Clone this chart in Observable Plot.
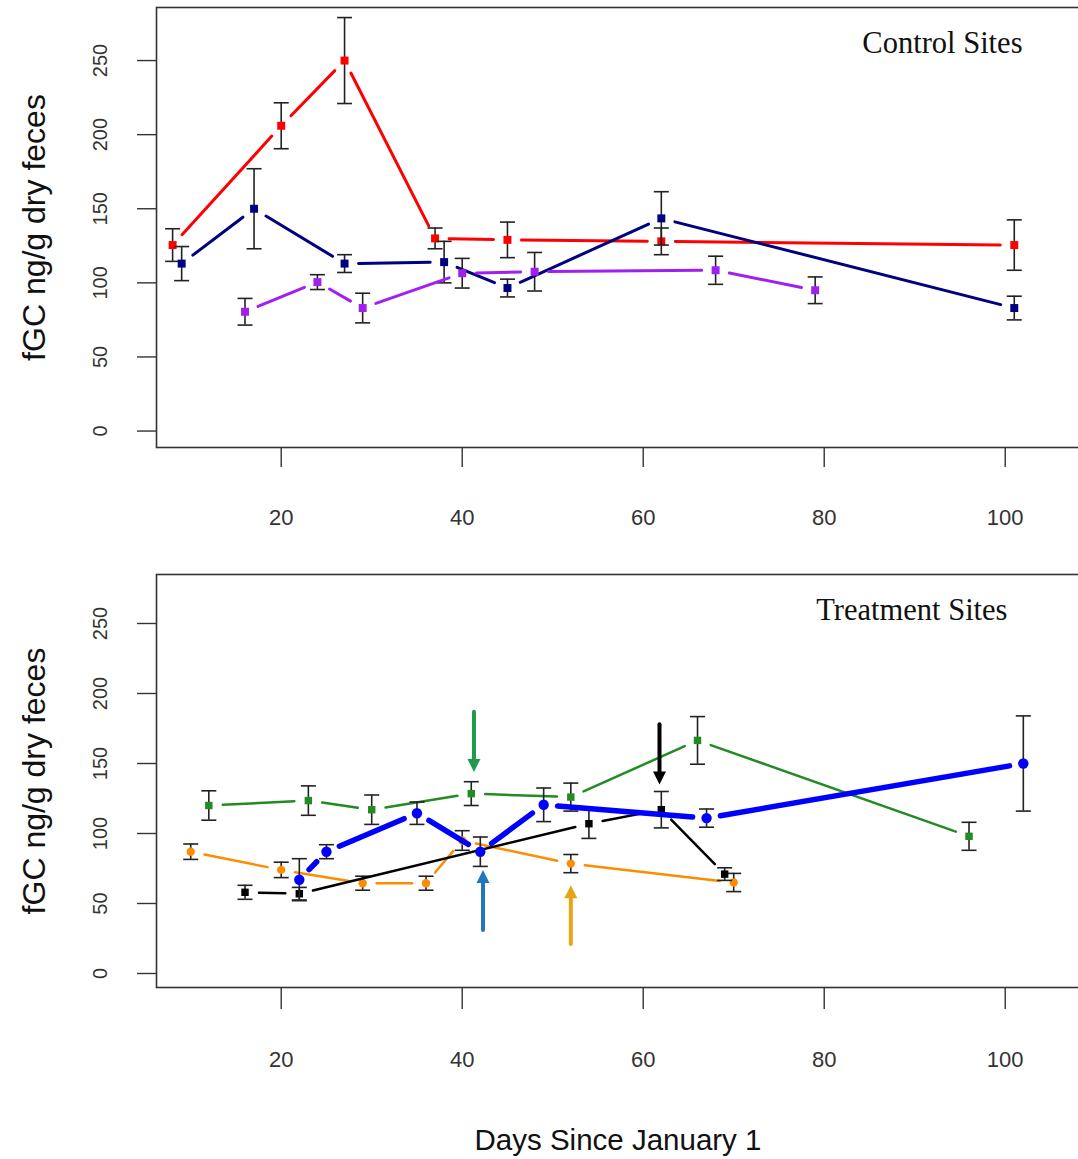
<!DOCTYPE html>
<html>
<head>
<meta charset="utf-8">
<script src="https://cdn.jsdelivr.net/npm/d3@7"></script>
<script src="https://cdn.jsdelivr.net/npm/@observablehq/plot@0.6"></script>
<style>
  html, body { margin: 0; padding: 0; background: #fff; }
  body { width: 1078px; height: 1159px; overflow: hidden; position: relative; }
  #chart svg { display: block; }
  #xtitle {
    position: absolute; top: 1120px; left: 618px; transform: translateX(-50%);
    font-family: "Liberation Sans", Arial, sans-serif; font-size: 29.5px; color: #111;
    white-space: nowrap; line-height: 40px;
  }
</style>
</head>
<body>
<div id="chart"></div>
<div id="xtitle">Days Since January 1</div>
<script>
// ---------- data ----------
const yTicks = [0, 50, 100, 150, 200, 250];
const xTicks = [20, 40, 60, 80, 100];
const yTitle = "fGC ng/g dry feces";
const topTitle = "Control Sites";
const bottomTitle = "Treatment Sites";

// Control sites
const redDays = [8, 20, 27, 37, 45, 62, 101];
const redFGC  = [125.5, 206, 250, 130, 129, 128, 125.5];
const redSE   = [11, 15.5, 29, 7, 12, 9, 17];

const navyDays = [9, 17, 27, 38, 45, 62, 101];
const navyFGC  = [113, 150, 113, 114, 96.5, 143.5, 83];
const navySE   = [11.5, 27, 6, 14, 6, 18, 8];

const purpleDays = [16, 24, 29, 40, 48, 68, 79];
const purpleFGC  = [80.5, 100.5, 83, 106.5, 107.5, 108.5, 95];
const purpleSE   = [9, 5, 10, 10, 13, 9.5, 9];

// Treatment sites
const greenDays = [12, 23, 30, 41, 52, 66, 96];
const greenFGC  = [120, 123.5, 117, 128.5, 126, 166.5, 98];
const greenSE   = [10.5, 10.5, 10.5, 8.5, 10, 17, 10];

const blueDays = [22, 25, 35, 42, 49, 67, 102];
const blueFGC  = [67, 87, 114.5, 87, 120.5, 111, 150];
const blueSE   = [15, 5, 8, 10.5, 12, 6.5, 34];

const blackDays = [16, 22, 54, 62, 69];
const blackFGC  = [58, 57, 107, 117, 71];
const blackSE   = [5, 4.5, 10.5, 13, 4.5];

const orangeDays = [10, 20, 29, 36, 40, 52, 70];
const orangeFGC  = [87, 74, 64.5, 64.5, 95, 78.5, 65];
const orangeSE   = [5.5, 5.5, 5, 5, 7, 6.5, 6.5];

// Annotation arrows (treatment panel)
const arrowDays   = [41.3, 42.3, 52, 61.8];
const arrowFrom   = [187, 31, 21, 178];
const arrowTo     = [144, 74, 63, 135];
const arrowColors = ["#1e9a4a", "#2277bb", "#e8a317", "#000000"];

// ---------- helpers ----------
const rows = (days, vals, se) => days.map((d, i) => ({day: d, fgc: vals[i], se: se[i]}));

const capSymbol = {draw(ctx, size) { const r = Math.sqrt(size / Math.PI); ctx.moveTo(-r, 0); ctx.lineTo(r, 0); }};
const headDown = {draw(ctx, size) { const r = Math.sqrt(size / Math.PI); ctx.moveTo(0, 0); ctx.lineTo(-r * 0.5, -r); ctx.lineTo(r * 0.5, -r); ctx.closePath(); }};
const headUp = {draw(ctx, size) { const r = Math.sqrt(size / Math.PI); ctx.moveTo(0, 0); ctx.lineTo(-r * 0.5, r); ctx.lineTo(r * 0.5, r); ctx.closePath(); }};

const SANS = "'Liberation Sans', Arial, sans-serif";
const SERIF = "'Liberation Serif', 'Times New Roman', serif";

function seriesMarks(data, color, lineWidth, symbol, r) {
  const pairs = d3.pairs(data);
  return [
    Plot.arrow(pairs, {
      x1: p => p[0].day, y1: p => p[0].fgc, x2: p => p[1].day, y2: p => p[1].fgc,
      stroke: color, strokeWidth: lineWidth, headLength: 0, insetStart: 14, insetEnd: 14
    }),
    Plot.ruleX(data, {x: "day", y1: d => d.fgc - d.se, y2: d => d.fgc + d.se, stroke: "#222", strokeWidth: 1.6}),
    Plot.dot(data, {x: "day", y: d => d.fgc + d.se, symbol: capSymbol, r: 7.5, stroke: "#222", fill: "none", strokeWidth: 1.6}),
    Plot.dot(data, {x: "day", y: d => d.fgc - d.se, symbol: capSymbol, r: 7.5, stroke: "#222", fill: "none", strokeWidth: 1.6}),
    Plot.dot(data, {x: "day", y: "fgc", symbol, r, fill: color, stroke: "none"})
  ];
}

function panel({height, marginTop, marginBottom, yDomain, title, titleDx, tickSize, labelDy, series, extra = []}) {
  return Plot.plot({
    width: 1078,
    height,
    marginLeft: 156,
    marginRight: -5,
    marginTop,
    marginBottom,
    x: {domain: [6.22, 108.65], axis: null},
    y: {domain: yDomain, axis: null},
    color: {type: "identity"},
    style: {fontFamily: SANS, background: "white", color: "#222"},
    marks: [
      Plot.frame({stroke: "#333", strokeWidth: 1.6}),
      Plot.axisY({ticks: yTicks, tickSize: 19, tickFormat: () => "", label: null, stroke: "#333", strokeWidth: 1.4}),
      Plot.text(yTicks, {y: d => d, text: d => String(d), frameAnchor: "left", dx: -56, rotate: -90,
        fontSize: 20, fill: "#333", textAnchor: "middle", lineAnchor: "middle"}),
      Plot.axisX({ticks: xTicks, tickSize, tickFormat: () => "", label: null, stroke: "#333", strokeWidth: 1.4}),
      Plot.text(xTicks, {x: d => d, text: d => String(d), frameAnchor: "bottom", dy: labelDy,
        fontSize: 22, fill: "#333", lineAnchor: "middle"}),
      Plot.text([yTitle], {text: d => d, frameAnchor: "left", dx: -122, rotate: -90,
        fontSize: 32, fill: "#111", textAnchor: "middle", lineAnchor: "middle"}),
      Plot.text([title], {text: d => d, frameAnchor: "top-right", dx: titleDx, dy: 36,
        fontFamily: SERIF, fontSize: 30.5, fill: "#111", textAnchor: "end", lineAnchor: "middle"}),
      ...series.flat(),
      ...extra
    ]
  });
}

// ---------- top panel ----------
const topSeries = [
  seriesMarks(rows(redDays, redFGC, redSE), "#ff0000", 3, "square", 4.5),
  seriesMarks(rows(navyDays, navyFGC, navySE), "#000080", 3, "square", 4.5),
  seriesMarks(rows(purpleDays, purpleFGC, purpleSE), "#a020f0", 3, "square", 4.5)
];

// ---------- bottom panel ----------
const bottomSeries = [
  seriesMarks(rows(greenDays, greenFGC, greenSE), "#228b22", 2.5, "square", 4.2),
  seriesMarks(rows(orangeDays, orangeFGC, orangeSE), "#ff8c00", 2.5, "circle", 4.2),
  seriesMarks(rows(blackDays, blackFGC, blackSE), "#000000", 2.5, "square", 4.2),
  seriesMarks(rows(blueDays, blueFGC, blueSE), "#0000ff", 5.5, "circle", 5.2)
];

const arrows = arrowDays.map((d, i) => ({day: d, from: arrowFrom[i], to: arrowTo[i], color: arrowColors[i]}));
const arrowMarks = [
  Plot.arrow(arrows, {x1: "day", y1: "from", x2: "day", y2: "to", stroke: "color", strokeWidth: 4,
    headLength: 0, insetEnd: 9}),
  Plot.dot(arrows.filter(a => a.from > a.to), {x: "day", y: "to", symbol: headDown, r: 13, fill: "color", stroke: "none"}),
  Plot.dot(arrows.filter(a => a.from < a.to), {x: "day", y: "to", symbol: headUp, r: 13, fill: "color", stroke: "none"})
];

const chart = document.getElementById("chart");
chart.append(panel({
  height: 545, marginTop: 7, marginBottom: 98, yDomain: [-11.1, 285.8],
  title: topTitle, titleDx: -61, tickSize: 20, labelDy: 70, series: topSeries
}));
chart.append(panel({
  height: 555, marginTop: 29, marginBottom: 113, yDomain: [-10, 285],
  title: bottomTitle, titleDx: -76, tickSize: 22, labelDy: 72, series: bottomSeries, extra: arrowMarks
}));
</script>
</body>
</html>
